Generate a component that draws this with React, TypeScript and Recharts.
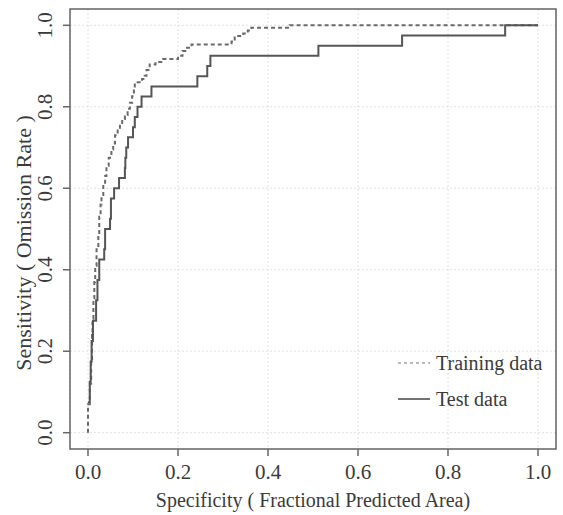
import {
  LineChart,
  Line,
  XAxis,
  YAxis,
  CartesianGrid,
  ReferenceArea,
} from 'recharts'

// ROC points: fractional predicted area where sensitivity steps up, and the new sensitivity
const trainFpa = [
  0, 0, 0.004, 0.007, 0.009, 0.01, 0.012, 0.014, 0.016, 0.019, 0.023, 0.025, 0.028, 0.03,
  0.034, 0.038, 0.041, 0.046, 0.052, 0.056, 0.06, 0.066, 0.071, 0.076, 0.082, 0.088, 0.093,
  0.098, 0.102, 0.104, 0.12, 0.126, 0.13, 0.137, 0.15, 0.167, 0.2, 0.21, 0.22, 0.23, 0.319,
  0.326, 0.345, 0.355, 0.363, 0.448, 1.0,
]
const trainSens = [
  0, 0.07, 0.12, 0.18, 0.24, 0.28, 0.33, 0.37, 0.41, 0.45, 0.49, 0.53, 0.56, 0.58,
  0.61, 0.63, 0.655, 0.675, 0.695, 0.71, 0.73, 0.745, 0.757, 0.77, 0.78, 0.795, 0.81,
  0.826, 0.843, 0.86, 0.868, 0.876, 0.89, 0.904, 0.91, 0.917, 0.925, 0.937, 0.945, 0.953, 0.96,
  0.974, 0.98, 0.987, 0.994, 1.0, 1.0,
]

const testFpa = [
  0, 0.004, 0.006, 0.008, 0.011, 0.018, 0.021, 0.025, 0.036, 0.038, 0.049, 0.051, 0.058,
  0.069, 0.082, 0.083, 0.085, 0.089, 0.1, 0.104, 0.11, 0.119, 0.141, 0.243, 0.265, 0.272,
  0.512, 0.698, 0.927, 1.0,
]
const testSens = [
  0.075, 0.125, 0.175, 0.225, 0.275, 0.325, 0.375, 0.425, 0.45, 0.5, 0.525, 0.575, 0.6,
  0.625, 0.65, 0.675, 0.7, 0.725, 0.75, 0.775, 0.8, 0.825, 0.85, 0.875, 0.9, 0.925,
  0.95, 0.975, 1.0, 1.0,
]

const axisTicks = [0, 0.2, 0.4, 0.6, 0.8, 1.0]
const seriesNames = ['Training data', 'Test data']

const trainData = trainFpa.map((x, i) => ({ x, y: trainSens[i] }))
const testData = testFpa.map((x, i) => ({ x, y: testSens[i] }))

const FONT = '"Liberation Serif", "Times New Roman", serif'
const INK = '#3a3a3a'

function YTick({ x, y, payload }: any) {
  const tx = x - 9
  return (
    <text
      x={tx}
      y={y}
      transform={`rotate(-90 ${tx} ${y})`}
      textAnchor="middle"
      fill={INK}
      fontSize={21}
      fontFamily={FONT}
    >
      {Number(payload.value).toFixed(1)}
    </text>
  )
}

function YTitle({ viewBox }: any) {
  const cy = viewBox.y + viewBox.height / 2 + 14
  return (
    <text
      x={31}
      y={cy}
      transform={`rotate(-90 31 ${cy})`}
      textAnchor="middle"
      fill={INK}
      fontSize={22}
      fontFamily={FONT}
    >
      Sensitivity ( Omission Rate )
    </text>
  )
}

// legend sits inside the plot, bottom right, as in the original R plot
function LegendBox() {
  return (
    <div
      style={{
        position: 'absolute',
        left: 394,
        top: 345,
        fontFamily: FONT,
        fontSize: 20,
        color: INK,
        lineHeight: '36px',
      }}
    >
      <div style={{ display: 'flex', alignItems: 'center' }}>
        <svg width={42} height={10}>
          <line x1={4} y1={5} x2={36} y2={5} stroke="#777" strokeWidth={1.2} strokeDasharray="3 3" />
        </svg>
        <span>{seriesNames[0]}</span>
      </div>
      <div style={{ display: 'flex', alignItems: 'center' }}>
        <svg width={42} height={10}>
          <line x1={4} y1={5} x2={36} y2={5} stroke="#444" strokeWidth={1.5} />
        </svg>
        <span>{seriesNames[1]}</span>
      </div>
    </div>
  )
}

export default function App() {
  return (
    <div style={{ position: 'absolute', left: 0, top: 0, width: 563, height: 515, background: '#fff' }}>
      <LineChart width={563} height={515} margin={{ top: 9, right: 7, left: 0, bottom: 0 }}>
        <CartesianGrid stroke="#e0e0e0" strokeDasharray="2 2" />
        <XAxis
          type="number"
          dataKey="x"
          domain={[-0.04, 1.04]}
          ticks={axisTicks}
          allowDataOverflow
          height={66}
          axisLine={false}
          tickSize={7}
          tickMargin={8}
          tickLine={{ stroke: '#666', strokeWidth: 1.5 }}
          tickFormatter={(v: number) => v.toFixed(1)}
          tick={{ fill: INK, fontSize: 21, fontFamily: FONT }}
          label={{
            value: 'Specificity ( Fractional Predicted Area)',
            position: 'insideBottom',
            offset: 8,
            fill: INK,
            fontSize: 20,
            fontFamily: FONT,
          }}
        />
        <YAxis
          type="number"
          dataKey="y"
          domain={[-0.04, 1.04]}
          ticks={axisTicks}
          allowDataOverflow
          width={70}
          axisLine={false}
          tickSize={7}
          tickLine={{ stroke: '#666', strokeWidth: 1.5 }}
          tick={<YTick />}
          label={{ content: <YTitle /> }}
        />
        <Line
          data={trainData}
          dataKey="y"
          name={seriesNames[0]}
          type="stepAfter"
          stroke="#6a6a6a"
          strokeWidth={2}
          strokeDasharray="4 3"
          dot={false}
          isAnimationActive={false}
        />
        <Line
          data={testData}
          dataKey="y"
          name={seriesNames[1]}
          type="stepAfter"
          stroke="#555"
          strokeWidth={2}
          dot={false}
          isAnimationActive={false}
        />
        <ReferenceArea
          x1={-0.04}
          x2={1.04}
          y1={-0.04}
          y2={1.04}
          fill="none"
          stroke="#666"
          strokeWidth={1.5}
          ifOverflow="visible"
        />
      </LineChart>
      <LegendBox />
    </div>
  )
}
